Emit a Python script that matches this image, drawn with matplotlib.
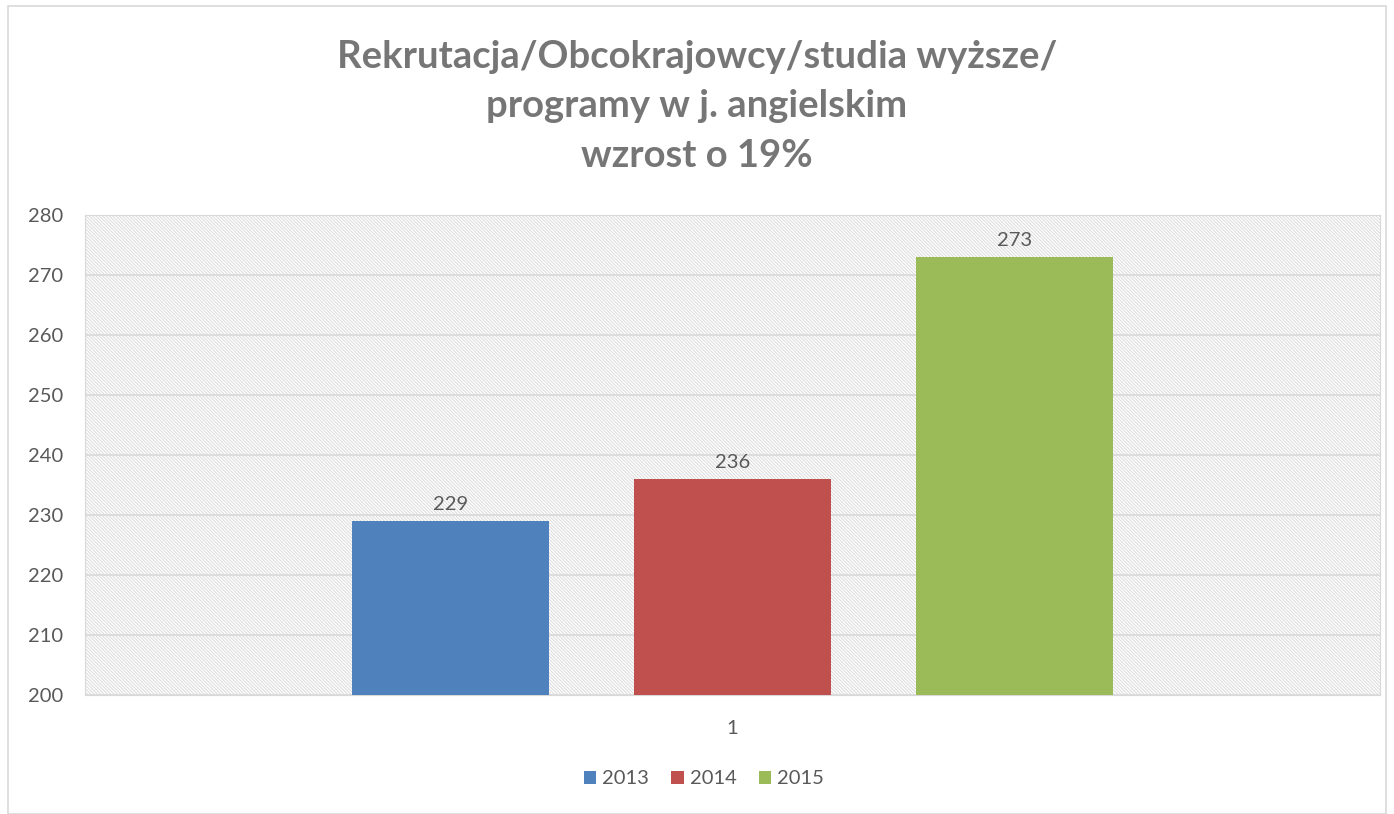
import matplotlib.pyplot as plt
import matplotlib as mpl

years = ['2013', '2014', '2015']
values = [229, 236, 273]
colors = ['#4f81bd', '#c0504d', '#9bbb59']
category = ['1']

title = 'Rekrutacja/Obcokrajowcy/studia wyższe/\nprogramy w j. angielskim\nwzrost o 19%'

plt.rcParams['font.family'] = ['Lato', 'DejaVu Sans']
plt.rcParams['hatch.color'] = '#dadada'
plt.rcParams['hatch.linewidth'] = 0.7
text_color = '#595959'

fig = plt.figure(figsize=(13.94, 8.14), dpi=100)
ax = fig.add_axes([85 / 1394, 1 - 695 / 814, (1380 - 85) / 1394, (695 - 215) / 814])

# hatched background of the plot area (downward diagonal)
ax.add_patch(mpl.patches.Rectangle((0, 0), 1, 1, transform=ax.transAxes,
                                   facecolor='white', edgecolor='#dadada', linewidth=0,
                                   hatch='\\' * 10, zorder=0))

width = 0.152
step = 0.218
for i, (y, v, c) in enumerate(zip(years, values, colors)):
    x = (i - 1) * step
    ax.bar(x, v - 200, width=width, bottom=200, color=c, label=y, zorder=3)
    ax.text(x, v + 1.3, str(v), ha='center', va='bottom', fontsize=14.5, color=text_color)

ax.set_xlim(-0.5, 0.5)
ax.set_ylim(200, 280)
ax.set_yticks(range(200, 281, 10))
ax.set_xticks([0])
ax.set_xticklabels(category)
ax.yaxis.grid(True, color='#d9d9d9', linewidth=1.2, zorder=1)
ax.set_axisbelow(True)
for side in ['top', 'right', 'left', 'bottom']:
    ax.spines[side].set_color('#d9d9d9')
ax.tick_params(length=0, labelsize=14.5, colors=text_color)
ax.tick_params(axis='y', pad=16)
ax.tick_params(axis='x', pad=18)

fig.text(0.5, 1 - 40 / 814, title, ha='center', va='top', fontsize=27.5, fontweight='bold',
         color='#767676', linespacing=1.55)

leg = fig.legend(loc='center', bbox_to_anchor=(0.505, 1 - 779 / 814), ncol=3, frameon=False,
                 fontsize=14.5, handlelength=0.6, handleheight=0.6, handletextpad=0.3, columnspacing=1.1)
for t in leg.get_texts():
    t.set_color(text_color)

fig.patches.append(mpl.patches.Rectangle((8 / 1394, 0), 1 - 16 / 1394, 1 - 6 / 814, transform=fig.transFigure,
                                         fill=False, edgecolor='#d9d9d9', linewidth=1.2))

fig.savefig('out.png', dpi=100)
